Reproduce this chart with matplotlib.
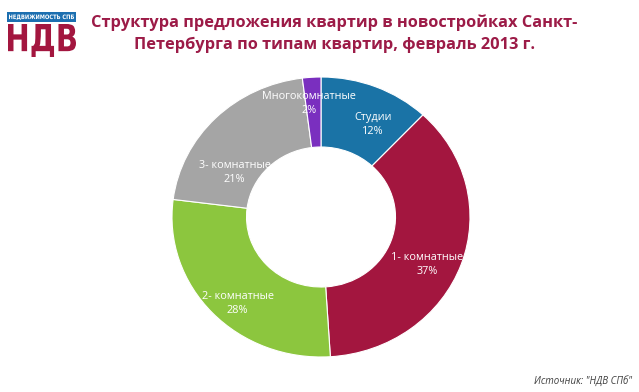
import matplotlib.pyplot as plt
from matplotlib.patches import Rectangle, PathPatch
from matplotlib.textpath import TextPath
from matplotlib.font_manager import FontProperties
from matplotlib.transforms import Affine2D

plt.rcParams['font.family'] = ['Open Sans', 'DejaVu Sans']

# shares of flat types, clockwise from 12 o'clock
categories = ['Студии', '1- комнатные', '2- комнатные', '3- комнатные', 'Многокомнатные']
shares = [12, 37, 28, 21, 2]
colors = ['#1A73A6', '#A3163F', '#8CC63E', '#A5A5A5', '#7A2FBF']
# label anchor points inside the ring (pie units)
label_pos = [(0.35, 0.66), (0.71, -0.34), (-0.56, -0.62), (-0.58, 0.32), (-0.08, 0.81)]

W, H = 639, 392
fig = plt.figure(figsize=(W / 100, H / 100), dpi=100)
fig.patch.set_facecolor('white')

# donut: centre (321, 217) px, slightly wider than tall
cx, cy, rx, ry = 321, 217, 149, 140
ax = fig.add_axes([(cx - rx) / W, (H - cy - ry) / H, 2 * rx / W, 2 * ry / H])
ax.pie(shares, colors=colors, startangle=90, counterclock=False,
       wedgeprops=dict(width=0.5, edgecolor='white', linewidth=0.8))
ax.set_xlim(-1, 1)
ax.set_ylim(-1, 1)
ax.set_aspect('auto')
ax.axis('off')

for name, val, (x, y) in zip(categories, shares, label_pos):
    ax.text(x, y, f'{name}\n{val}%', ha='center', va='center', color='white',
            fontsize=7.8, linespacing=1.4)

# title
fig.text(334 / W, 1 - 34 / H,
         'Структура предложения квартир в новостройках Санкт-\nПетербурга по типам квартир, февраль 2013 г.',
         ha='center', va='center', fontsize=11.8, fontweight='bold', color='#9C1B47',
         linespacing=1.45)

# logo, drawn in pixel coordinates
lax = fig.add_axes([0, 0, 1, 1])
lax.set_xlim(0, W)
lax.set_ylim(0, H)
lax.axis('off')


def fit_text(s, x0, x1, y0, y1, color, weight='bold'):
    tp = TextPath((0, 0), s, prop=FontProperties(family='DejaVu Sans', weight=weight))
    b = tp.get_extents()
    tr = (Affine2D().translate(-b.x0, -b.y0)
          .scale((x1 - x0) / b.width, (y1 - y0) / b.height)
          .translate(x0, H - y1))
    lax.add_patch(PathPatch(tr.transform_path(tp), facecolor=color, edgecolor='none'))


lax.add_patch(Rectangle((7, H - 22), 69, 10, facecolor='#1C6FB0', edgecolor='none'))
fit_text('НЕДВИЖИМОСТЬ СПБ', 9, 74, 14.5, 20, 'white')
fit_text('НДВ', 8, 76, 24, 57, '#A3163F')

# source
fig.text(632 / W, 1 - 381 / H, 'Источник: "НДВ СПб"', ha='right', va='center',
         fontsize=7, style='italic', color='#404040')

fig.savefig('out.png', dpi=100)
